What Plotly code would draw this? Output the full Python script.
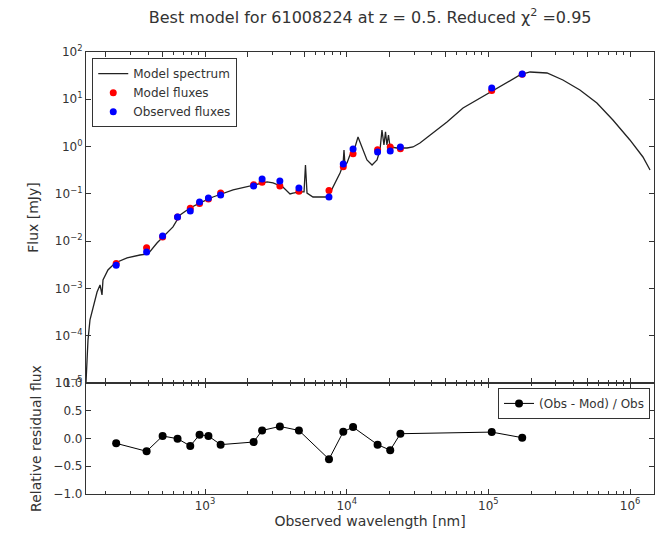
import plotly.graph_objects as go
from plotly.subplots import make_subplots

# ---------------- data ----------------
spec_wl = [144.5, 149.3, 154.2, 162.2, 173.0, 181.6, 187.5, 190.5, 206.5, 231.7,
           281.8, 347.5, 396.3, 458.1, 505.8, 594.3, 666.8, 783.4, 922.6, 1138,
           1578, 2183, 2742, 3020, 3548, 3981, 4178, 4677, 5000, 5117,
           5248, 5781, 7261, 7621, 8260, 8974, 9419, 9572, 9727, 10050,
           10540, 11460, 12020, 12820, 13900, 15100, 16370, 17180, 17740, 18320,
           18790, 19230, 19720, 20230, 22650, 26670, 29380, 32890, 38730, 51050,
           66220, 87300, 107700, 135200, 167100, 196800, 259400, 335700, 442600, 583400,
           756800, 997700, 1233000, 1384000]
spec_flux = [1.0e-5, 8.1e-5, 2.16e-4, 3.87e-4, 8.43e-4, 1.19e-3, 7.3e-4, 1.51e-3, 2.46e-3, 3.46e-3,
             4.42e-3, 5.1e-3, 5.36e-3, 9.16e-3, 0.0123, 0.020, 0.0358, 0.0504, 0.0643, 0.0859,
             0.121, 0.154, 0.179, 0.170, 0.140, 0.0995, 0.104, 0.110, 0.110, 0.408,
             0.104, 0.0859, 0.0859, 0.104, 0.170, 0.277, 0.408, 0.847, 0.408, 0.450,
             0.664, 0.982, 1.60, 0.982, 0.521, 0.408, 0.521, 0.847, 2.24, 1.08,
             2.04, 1.08, 1.76, 0.982, 0.933, 0.933, 0.982, 1.19, 1.76, 3.31,
             6.55, 10.6, 15.7, 23.2, 32.7, 37.8, 36.0, 25.6, 15.7, 8.36,
             3.65, 1.38, 0.603, 0.320]

band_wl = [236, 387, 502, 640, 787, 915, 1057, 1289, 2203, 2529,
           3375, 4600, 7500, 9460, 11090, 16520, 20290, 23930, 105600, 173300]
obs_flux = [3.1e-3, 5.9e-3, 0.0129, 0.0325, 0.0436, 0.0675, 0.0819, 0.0948, 0.147, 0.207,
            0.187, 0.133, 0.0859, 0.428, 0.889, 0.769, 0.807, 0.98, 17.3, 34.3]
mod_flux = [3.37e-3, 7.26e-3, 0.0123, 0.0326, 0.0494, 0.0628, 0.0782, 0.105, 0.156, 0.177,
            0.146, 0.114, 0.118, 0.376, 0.706, 0.854, 0.976, 0.895, 15.3, 33.8]
residual = [-0.087, -0.23, 0.045, -0.003, -0.134, 0.069, 0.045, -0.11, -0.063, 0.146,
            0.218, 0.146, -0.373, 0.122, 0.206, -0.11, -0.21, 0.087, 0.116, 0.015]

flux_ticks = [1e-5, 1e-4, 1e-3, 1e-2, 1e-1, 1, 10, 100]
flux_tick_text = ["10<sup>\u22125</sup>", "10<sup>\u22124</sup>", "10<sup>\u22123</sup>",
                  "10<sup>\u22122</sup>", "10<sup>\u22121</sup>", "10<sup>0</sup>",
                  "10<sup>1</sup>", "10<sup>2</sup>"]
wl_ticks = [1e3, 1e4, 1e5, 1e6]
wl_tick_text = ["10<sup>3</sup>", "10<sup>4</sup>", "10<sup>5</sup>", "10<sup>6</sup>"]
res_ticks = [-1.0, -0.5, 0.0, 0.5, 1.0]
res_tick_text = ["\u22121.0", "\u22120.5", "0.0", "0.5", "1.0"]

# ---------------- figure ----------------
FONT = "DejaVu Sans"
INK = "#333333"
TICK_SIZE = 12
LABEL_SIZE = 15
fig = make_subplots(rows=2, cols=1, shared_xaxes=True, vertical_spacing=0,
                    row_heights=[0.749, 0.251])

fig.add_trace(go.Scatter(x=spec_wl, y=spec_flux, mode="lines", name="Model spectrum",
                         line=dict(color="#222222", width=1.3)), row=1, col=1)
fig.add_trace(go.Scatter(x=band_wl, y=mod_flux, mode="markers", name="Model fluxes",
                         marker=dict(color="red", size=7, line=dict(width=0))), row=1, col=1)
fig.add_trace(go.Scatter(x=band_wl, y=obs_flux, mode="markers", name="Observed fluxes",
                         marker=dict(color="blue", size=7, line=dict(width=0))), row=1, col=1)
fig.add_trace(go.Scatter(x=band_wl, y=residual, mode="lines+markers", name="(Obs - Mod) / Obs",
                         line=dict(color="black", width=1),
                         marker=dict(color="black", size=8), legend="legend2"), row=2, col=1)

axis_common = dict(showline=True, linecolor="#333333", linewidth=1.2, mirror="ticks",
                   ticks="inside", ticklen=5, tickcolor="#333333", showgrid=False,
                   zeroline=False, tickfont=dict(family=FONT, size=TICK_SIZE, color=INK))

xr = [2.16, 6.169]
fig.update_xaxes(type="log", range=xr, **axis_common,
                 minor=dict(ticks="inside", ticklen=3, tickcolor="#333333",
                            showgrid=False, dtick="D1"))
fig.update_xaxes(showticklabels=False, row=1, col=1)
fig.update_xaxes(tickvals=wl_ticks, ticktext=wl_tick_text, row=2, col=1,
                 title=dict(text="Observed wavelength [nm]", standoff=4,
                            font=dict(family=FONT, size=LABEL_SIZE - 1, color=INK)))

fig.update_yaxes(type="log", range=[-5, 2], tickvals=flux_ticks, ticktext=flux_tick_text,
                 row=1, col=1, **axis_common,
                 title=dict(text="Flux [mJy]", standoff=12,
                            font=dict(family=FONT, size=LABEL_SIZE - 1, color=INK)))
fig.update_yaxes(range=[-1, 1], tickvals=res_ticks, ticktext=res_tick_text,
                 row=2, col=1, **axis_common,
                 title=dict(text="Relative residual flux", standoff=8,
                            font=dict(family=FONT, size=LABEL_SIZE - 1, color=INK)))

fig.update_layout(
    width=661, height=542,
    margin=dict(l=86, r=7, t=52, b=48),
    paper_bgcolor="white", plot_bgcolor="white",
    font=dict(family=FONT, size=TICK_SIZE, color=INK),
    title=dict(text="Best model for 61008224 at z = 0.5. Reduced \u03c7<sup>2</sup> =0.95",
               x=0.56, xanchor="center", y=1 - 17 / 542, yanchor="middle",
               font=dict(family=FONT, size=16, color=INK)),
    legend=dict(x=0.011, y=0.986, xanchor="left", yanchor="top",
                bordercolor="#333333", borderwidth=1, bgcolor="white",
                font=dict(family=FONT, size=12, color=INK),
                itemwidth=30, tracegroupgap=0),
    legend2=dict(x=0.993, y=0.24, xanchor="right", yanchor="top",
                 bordercolor="#333333", borderwidth=1, bgcolor="white",
                 font=dict(family=FONT, size=12, color=INK), itemwidth=30),
    showlegend=True,
)

fig.write_html("out.html")
